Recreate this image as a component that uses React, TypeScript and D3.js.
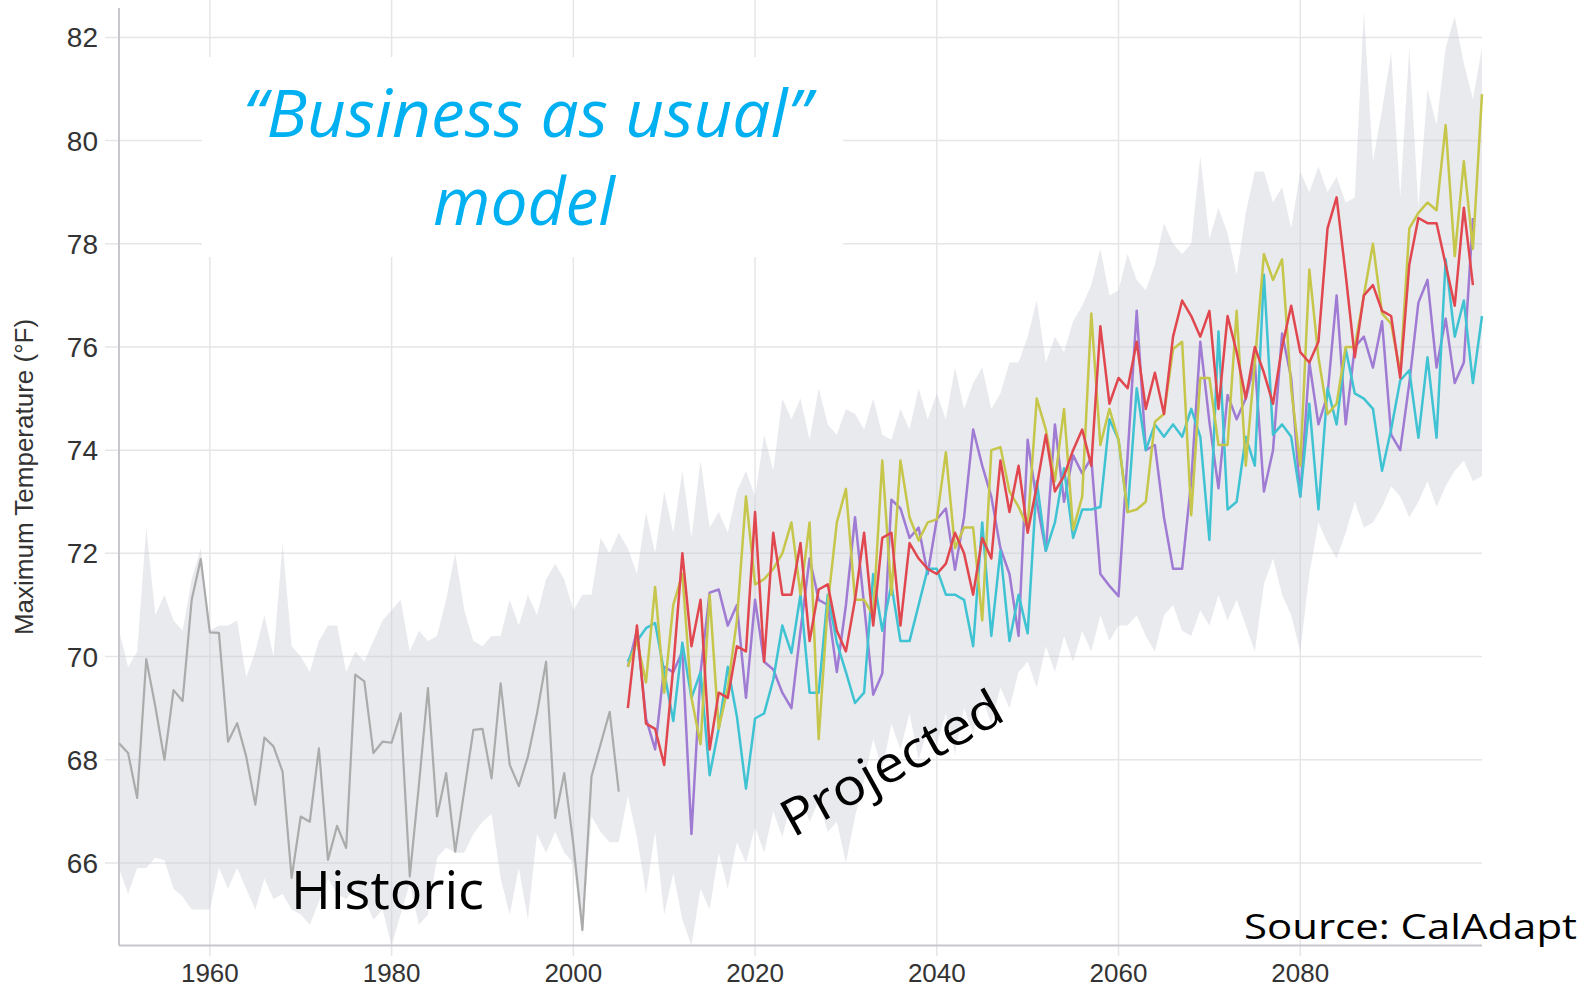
import React from 'react';
import * as d3 from 'd3';

// Observed (historic) series, one value per year starting 1950
const historicStart = 1950;
const historicValues = [
  68.32, 68.13, 67.26, 69.95, 69.03, 68.0, 69.35, 69.14, 71.1, 71.89,
  70.47, 70.46, 68.35, 68.71, 68.06, 67.13, 68.43, 68.26, 67.77, 65.71,
  66.9, 66.8, 68.22, 66.06, 66.72, 66.29, 69.65, 69.52, 68.13, 68.35,
  68.33, 68.9, 65.74, 67.5, 69.39, 66.9, 67.74, 66.22, 67.4, 68.58,
  68.6, 67.64, 69.48, 67.9, 67.49, 68.06, 68.9, 69.9, 66.87, 67.74,
  66.37, 64.7, 67.68, 68.3, 68.93, 67.38
];

// Model envelope (gray band), one value per year 1950..2100
const bandStart = 1950;
const bandUpper = [
  70.5, 69.8, 70.1, 72.5, 70.8, 71.2, 70.7, 70.5, 71.5, 72.1,
  70.5, 70.6, 70.6, 70.7, 69.6, 70.1, 70.8, 70.0, 72.2, 70.2,
  70.0, 69.7, 70.3, 70.6, 70.6, 69.7, 70.1, 69.9, 70.3, 70.7,
  70.9, 71.1, 70.1, 70.5, 70.3, 70.4, 71.1, 72.0, 70.9, 70.3,
  70.2, 70.4, 70.4, 71.1, 70.6, 71.2, 70.8, 71.5, 71.8, 71.5,
  70.9, 71.2, 71.2, 72.3, 72.0, 72.4,
  72.1, 71.6, 72.8, 72.0, 73.2, 72.4, 73.6, 72.3, 73.8, 72.5,
  72.8, 72.4, 73.2, 73.6, 73.1, 74.3, 73.6, 75.0, 74.6, 75.0,
  74.2, 75.2, 74.5, 74.3, 74.8, 74.7, 74.4, 75.0, 74.3, 74.2,
  74.8, 74.4, 75.2, 74.6, 75.1, 74.6, 75.6, 74.8, 75.3, 75.6,
  74.8, 75.1, 75.7, 75.7, 76.2, 76.9, 75.7, 76.2, 75.9, 76.5,
  76.8, 77.2, 77.9, 77.0, 77.1, 77.8, 77.3, 77.1, 77.6, 78.4,
  78.0, 77.8, 78.0, 79.7, 78.1, 78.7, 78.2, 77.4, 78.6, 79.4,
  79.4, 78.8, 79.1, 78.3, 79.4, 79.0, 79.5, 79.0, 79.3, 78.8,
  78.9, 82.5, 79.6, 80.6, 81.7, 78.9, 81.8, 78.7, 81.0, 80.3,
  81.8, 82.4, 81.5, 80.8, 81.8
];
const bandLower = [
  65.9, 65.4, 65.9, 65.9, 66.1, 66.05, 65.5, 65.35, 65.1, 65.1,
  65.1, 65.9, 65.5, 65.9, 65.5, 65.1, 65.7, 65.3, 65.4, 65.1,
  65.0, 64.8, 65.25, 65.7, 65.4, 65.3, 65.5, 65.3, 64.9, 65.1,
  64.4, 65.0, 65.6, 64.8, 65.0, 66.1, 66.3, 66.2, 66.2, 66.56,
  66.8, 66.95, 65.7, 65.0, 65.9, 64.9, 66.56, 66.2, 66.6, 66.2,
  66.0, 64.6, 66.9, 66.6, 66.4, 66.4,
  67.3, 66.5, 65.4, 66.6, 65.0, 65.8, 64.9, 64.4, 65.5, 65.1,
  66.2, 65.5, 66.4, 66.0, 66.7, 66.2, 67.0, 66.5, 67.2, 67.3,
  66.8, 67.2, 66.6, 66.8, 66.0, 66.9, 67.6, 68.4, 67.8, 68.7,
  68.2, 68.9, 68.0, 68.6, 68.3, 68.9, 68.1, 69.0, 68.5, 69.2,
  68.7, 69.4, 69.0, 69.7, 69.9, 69.4, 70.2, 69.7, 70.4, 69.9,
  70.5, 70.1, 70.8, 70.3, 70.6, 70.6, 70.8, 70.4, 70.1, 70.8,
  71.0, 70.5, 70.4, 70.9, 70.6, 71.2, 70.7, 71.1, 70.6, 70.1,
  71.4, 71.9, 71.2, 70.8, 70.1, 71.6, 72.6, 72.2, 71.9, 72.4,
  73.0, 72.5, 72.6, 72.9, 73.3, 73.1, 72.7, 73.0, 73.4, 72.9,
  73.3, 73.6, 73.8, 73.4, 73.5
];

// Projected model runs, one value per year starting 2006
const projectedStart = 2006;
const redModel = [
  69.0, 70.6, 68.7, 68.6, 67.9, 69.8, 72.0, 70.2, 71.1, 68.2,
  69.3, 69.2, 70.2, 70.1, 72.8, 69.9, 72.4, 71.2, 71.2, 72.2,
  70.3, 71.3, 71.4, 70.5, 70.1, 71.1, 72.4, 70.6, 72.3, 72.4,
  70.6, 72.2, 71.9, 71.7, 71.6, 71.8, 72.4, 72.0, 71.2, 72.3,
  71.9, 73.8, 72.8, 73.7, 72.4, 73.3, 74.3, 73.2, 73.5, 74.0,
  74.4, 73.7, 76.4, 74.9, 75.4, 75.2, 76.1, 74.8, 75.5, 74.7,
  76.2, 76.9, 76.6, 76.2, 76.7, 74.8, 76.6, 75.9, 75.0, 76.0,
  75.5, 74.9, 76.0, 76.8, 75.9, 75.7, 76.1, 78.3, 78.9, 77.4,
  75.8, 77.0, 77.2, 76.7, 76.6, 75.4, 77.6, 78.5, 78.4, 78.4,
  77.6, 76.8, 78.7, 77.2
];
const yellowModel = [
  69.8, 70.3, 69.5, 71.35, 69.3, 71.0, 71.6, 69.2, 68.3, 71.2,
  68.6, 69.4, 70.7, 73.1, 71.4, 71.5, 71.7, 72.0, 72.6, 71.2,
  72.6, 68.4, 71.0, 72.6, 73.25, 71.1, 71.1, 70.8, 73.8, 71.2,
  73.8, 72.7, 72.25, 72.6, 72.66, 73.96, 72.1, 72.5, 72.5, 70.7,
  74.0, 74.06, 73.2, 72.9, 72.5, 75.0, 74.4, 73.4, 74.8, 72.46,
  73.1, 76.65, 74.1, 74.8, 74.2, 72.8, 72.85, 73.0, 74.55, 74.7,
  75.96, 76.1, 72.74, 75.4, 75.4, 74.1, 74.1, 76.7, 73.7, 75.7,
  77.8, 77.3, 77.7, 75.2, 73.7, 77.5, 75.8, 74.7, 74.9, 76.0,
  76.0, 77.0, 78.0, 76.65, 76.45, 75.5, 78.3, 78.6, 78.8, 78.65,
  80.3, 77.76, 79.6, 77.9, 80.9
];
const cyanModel = [
  69.9, 70.3, 70.55, 70.65, 69.7, 68.75, 70.27, 69.2, 69.7, 67.7,
  68.6, 69.8, 68.84, 67.44, 68.8, 68.9, 69.55, 70.6, 70.07, 71.2,
  69.3, 69.3, 71.2, 70.27, 69.7, 69.1, 69.3, 71.6, 70.5, 71.4,
  70.3, 70.3, 71.0, 71.7, 71.7, 71.2, 71.2, 71.1, 70.2, 72.6,
  70.4, 72.05, 70.3, 71.2, 70.45, 73.4, 72.05, 72.6, 73.65, 72.3,
  72.85, 72.85, 72.9, 74.6, 74.2, 72.8, 75.2, 74.0, 74.5, 74.26,
  74.5, 74.26, 74.8, 74.26, 72.26, 76.3, 72.85, 73.0, 74.26, 73.7,
  77.4, 74.3, 74.5, 74.26, 73.1, 74.9, 72.85, 75.2, 74.5, 75.96,
  75.1, 75.0, 74.8, 73.6, 74.4, 75.35, 75.55, 74.24, 75.8, 74.24,
  77.7, 76.2, 76.9, 75.3, 76.6
];
const purpleModel = [
  69.8, 70.5, 68.8, 68.2, 69.8, 69.7, 70.1, 66.56, 69.7, 71.24,
  71.3, 70.6, 71.0, 69.2, 71.1, 69.9, 69.75, 69.3, 69.0, 70.5,
  71.9, 71.1, 71.0, 69.7, 71.0, 72.7, 71.0, 69.26, 69.67, 73.04,
  72.87, 72.3, 72.5, 71.6, 72.66, 72.87, 71.68, 72.7, 74.4, 73.7,
  73.1, 72.1, 71.6, 70.4, 74.2, 73.0, 72.05, 74.5, 73.0, 73.9,
  73.55, 73.85, 71.6, 71.37, 71.17, 73.9, 76.7, 74.0, 74.1, 72.7,
  71.7, 71.7, 73.4, 76.1, 74.55, 73.26, 75.07, 74.6, 75.0, 75.7,
  73.2, 74.0, 76.26, 75.4, 73.1, 75.7, 74.5, 75.07, 77.0, 74.5,
  76.0, 76.2, 75.6, 76.5, 74.3, 74.0, 75.3, 76.86, 77.3, 75.6,
  76.55, 75.3, 75.7, 78.5
];

const xTicks = [1960, 1980, 2000, 2020, 2040, 2060, 2080];
const yTicks = [66, 68, 70, 72, 74, 76, 78, 80, 82];

const W = 1589;
const H = 989;
const plot = { left: 119, right: 1482, top: 8, bottom: 945.5 };

const tickFont = '"Liberation Sans", Arial, Helvetica, sans-serif';
const noteFont = '"Open Sans", "Noto Sans", sans-serif';

const App = () => {
  const x = d3.scaleLinear().domain([1950, 2100]).range([plot.left, plot.right]);
  const y = d3.scaleLinear().domain([64.4, 82.57]).range([plot.bottom, plot.top]);

  const band = d3.area<number>()
    .x((_, i) => x(bandStart + i))
    .y0((_, i) => y(bandLower[i]))
    .y1(d => y(d));

  const lineFrom = (start: number) => d3.line<number>()
    .x((_, i) => x(start + i))
    .y(d => y(d));

  const models = [
    { values: purpleModel, color: '#a07bd3' },
    { values: cyanModel, color: '#3fc3d3' },
    { values: yellowModel, color: '#c6c64a' },
    { values: redModel, color: '#e0474e' },
  ];

  return (
    <svg width={W} height={H} style={{ position: 'absolute', left: 0, top: 0, background: '#fff' }}>
      {/* grid */}
      {yTicks.map(t => (
        <line key={'gy' + t} x1={105} x2={plot.right} y1={y(t)} y2={y(t)} stroke="#e6e6e8" strokeWidth={1.5} />
      ))}
      {xTicks.map(t => (
        <line key={'gx' + t} x1={x(t)} x2={x(t)} y1={0} y2={956} stroke="#e6e6e8" strokeWidth={1.5} />
      ))}

      {/* model envelope */}
      <path d={band(bandUpper) || ''} fill="#c9ccd6" fillOpacity={0.42} />

      {/* axes */}
      <line x1={plot.left} x2={plot.left} y1={plot.top} y2={plot.bottom} stroke="#c8c8cc" strokeWidth={2} />
      <line x1={plot.left} x2={plot.right} y1={plot.bottom} y2={plot.bottom} stroke="#c8c8cc" strokeWidth={2} />

      {/* historic */}
      <path d={lineFrom(historicStart)(historicValues) || ''} fill="none" stroke="#ababab" strokeWidth={2.2} strokeLinejoin="round" />

      {/* projected runs */}
      {models.map((m, i) => (
        <path key={i} d={lineFrom(projectedStart)(m.values) || ''} fill="none" stroke={m.color} strokeWidth={2.5} strokeLinejoin="round" />
      ))}

      {/* tick labels */}
      {yTicks.map(t => (
        <text key={'ly' + t} x={98} y={y(t) + 10} textAnchor="end" fontFamily={tickFont} fontSize={28} fill="#333">{t}</text>
      ))}
      {xTicks.map(t => (
        <text key={'lx' + t} x={x(t)} y={982} textAnchor="middle" fontFamily={tickFont} fontSize={26} fill="#333">{t}</text>
      ))}
      <text transform="translate(33,477) rotate(-90)" textAnchor="middle" fontFamily={tickFont} fontSize={26} fill="#333">
        Maximum Temperature (°F)
      </text>

      {/* annotation box */}
      <rect x={202} y={57} width={641} height={200} fill="#fff" />
      <text x={243} y={137} fontFamily={noteFont} fontStyle="italic" fontSize={66} fill="#00b0f0"
        textLength={568} lengthAdjust="spacingAndGlyphs">“Business as usual”</text>
      <text x={433} y={225} fontFamily={noteFont} fontStyle="italic" fontSize={66} fill="#00b0f0"
        textLength={182} lengthAdjust="spacingAndGlyphs">model</text>

      <text x={291} y={909} fontFamily={noteFont} fontSize={53} fill="#000"
        textLength={193} lengthAdjust="spacingAndGlyphs">Historic</text>
      <text transform="translate(793,838) rotate(-29)" fontFamily={noteFont} fontSize={51} fill="#000"
        textLength={245} lengthAdjust="spacingAndGlyphs">Projected</text>
      <text x={1244} y={939} fontFamily={noteFont} fontSize={35} fill="#000"
        textLength={333} lengthAdjust="spacingAndGlyphs">Source: CalAdapt</text>
    </svg>
  );
};

export default App;
